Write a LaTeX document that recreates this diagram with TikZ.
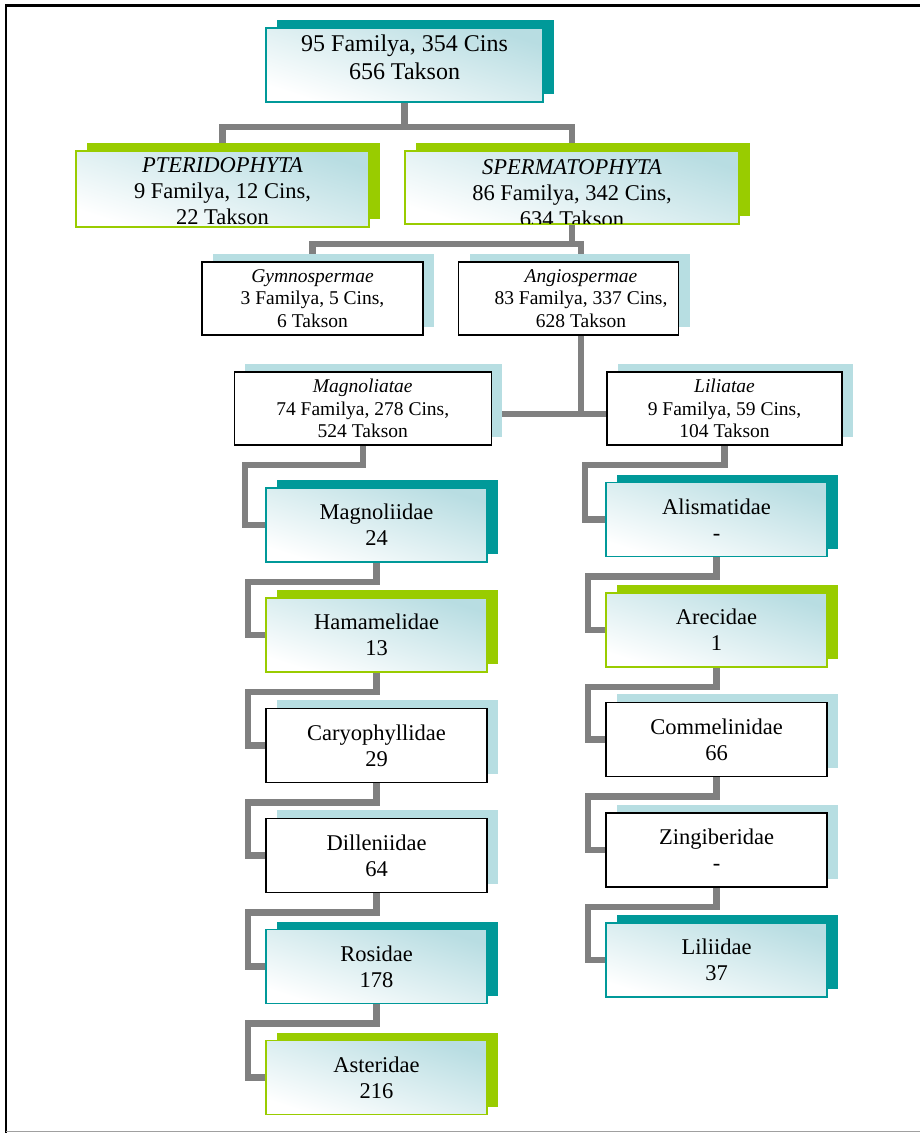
\documentclass[tikz,border=0pt]{standalone}
\usepackage{fontspec}
\setmainfont{Liberation Serif}
\usetikzlibrary{backgrounds,shadows,calc}
\definecolor{tealc}{RGB}{0,153,153}
\definecolor{greenc}{RGB}{153,204,0}
\definecolor{gradblue}{RGB}{184,221,226}
\definecolor{shadeblue}{RGB}{183,222,226}
\definecolor{conngray}{RGB}{128,128,128}
\definecolor{framegray}{RGB}{160,160,160}
\begin{document}
\begin{tikzpicture}[x=1pt,y=-1pt,
  base/.style={rectangle, inner sep=0pt, outer sep=0pt, align=center, line width=1.5pt, font=\fontsize{22.5}{26}\selectfont},
  txt/.style={inner sep=0pt, outer sep=0pt, align=center, font=\fontsize{22.5}{26}\selectfont},
  gradfill/.style={top color=gradblue, bottom color=white, middle color=gradblue!50!white, shading angle=-18},
  tealbox/.style={base, draw=tealc, gradfill, general shadow={fill=tealc, shadow xshift=10.5pt, shadow yshift=8pt}},
  greenbox/.style={base, draw=greenc, gradfill, general shadow={fill=greenc, shadow xshift=10.5pt, shadow yshift=8pt}},
  plainbox/.style={base, draw=black, fill=white, general shadow={fill=shadeblue, shadow xshift=11pt, shadow yshift=8.5pt}},
  smalltxt/.style={font=\fontsize{19.5}{22.5}\selectfont},
  sub/.style={minimum width=221pt, minimum height=74pt},
  conn/.style={draw=conngray, line width=6.5pt},
]
\useasboundingbox (0,0) rectangle (920,1133);

% level 0
\node[tealbox, minimum width=277pt, minimum height=74pt] (top) at (404.5,65) {};
\node[txt, font=\fontsize{24}{27.5}\selectfont] (toptext) at (404.5,57.5) {95 Familya, 354 Cins\\656 Takson};

% level 1
\node[greenbox, minimum width=293pt, minimum height=76pt] (pter) at (222.5,189) {};
\node[txt] (ptertext) at (222.5,191.5) {\textit{PTERIDOPHYTA}\\9 Familya, 12 Cins,\\22 Takson};
\node[greenbox, minimum width=334pt, minimum height=73pt] (sperm) at (572,187.5) {};
\begin{scope}
  \clip ($(sperm.south west)+(0.75,-0.75)$) rectangle ($(sperm.north east)+(-0.75,0.75)$);
  \node[txt] (spermtext) at (572,193) {\textit{SPERMATOPHYTA}\\86 Familya, 342 Cins,\\634 Takson};
\end{scope}

% level 2
\node[plainbox, smalltxt, minimum width=221pt, minimum height=73pt] (gymno) at (312.5,298.5) {\textit{Gymnospermae}\\3 Familya, 5 Cins,\\6 Takson};
\node[plainbox, minimum width=220pt, minimum height=73pt] (angio) at (568.5,298.5) {};
\node[txt, smalltxt] (angiotext) at (581,298.5) {\textit{Angiospermae}\\83 Familya, 337 Cins,\\628 Takson};

% level 3
\node[plainbox, smalltxt, minimum width=257pt, minimum height=73pt] (magnoliatae) at (362.75,408.5) {\textit{Magnoliatae}\\74 Familya, 278 Cins,\\524 Takson};
\node[plainbox, smalltxt, minimum width=235pt, minimum height=73pt] (liliatae) at (724.5,408.5) {\textit{Liliatae}\\9 Familya, 59 Cins,\\104 Takson};

% left column
\node[tealbox, sub] (magnoliidae) at (376.5,525) {Magnoliidae\\24};
\node[greenbox, sub] (hamamelidae) at (376.5,635) {Hamamelidae\\13};
\node[plainbox, sub] (caryophyllidae) at (376.5,745.5) {Caryophyllidae\\29};
\node[plainbox, sub] (dilleniidae) at (376.5,855.5) {Dilleniidae\\64};
\node[tealbox, sub] (rosidae) at (376.5,966.5) {Rosidae\\178};
\node[greenbox, sub] (asteridae) at (376.5,1077.5) {Asteridae\\216};

% right column
\node[tealbox, sub] (alismatidae) at (716.5,519.5) {Alismatidae\\-};
\node[greenbox, sub] (arecidae) at (716.5,630) {Arecidae\\1};
\node[plainbox, sub] (commelinidae) at (716.5,739.5) {Commelinidae\\66};
\node[plainbox, sub] (zingiberidae) at (716.5,850) {Zingiberidae\\-};
\node[tealbox, sub] (liliidae) at (716.5,960) {Liliidae\\37};

% connectors
\begin{scope}[on background layer]
  \draw[conn] (top.south) -- ++(0,25) -| (pter.north);
  \draw[conn] (top.south) -- ++(0,25) -| (sperm.north);
  \draw[conn] (sperm.south) -- ++(0,20) -| (gymno.north);
  \draw[conn] (sperm.south) -- ++(0,20) -| (angiotext |- angio.north);
  \draw[conn] (angiotext |- angio.south) -- ++(0,79) coordinate (bus);
  \draw[conn] (magnoliatae.east |- bus) -- (liliatae.west |- bus);
  \draw[conn] (magnoliatae.south) -- ++(0,20) -| ($(magnoliidae.west)+(-21,0)$) -- (magnoliidae.west);
  \draw[conn] (liliatae.south) -- ++(0,20) -| ($(alismatidae.west)+(-21,0)$) -- (alismatidae.west);
  \foreach \a/\b in {magnoliidae/hamamelidae, hamamelidae/caryophyllidae, caryophyllidae/dilleniidae, dilleniidae/rosidae, rosidae/asteridae, alismatidae/arecidae, arecidae/commelinidae, commelinidae/zingiberidae, zingiberidae/liliidae}
    \draw[conn] (\a.south) -- ++(0,20) -| ($(\b.west)+(-18,0)$) -- (\b.west);
\end{scope}

% page frame
\draw[black, line width=2.3pt] (920,5.5) -- (6.2,5.5) -- (6.2,1133);
\draw[framegray, line width=1.3pt] (6.2,1131.8) -- (920,1131.8);
\end{tikzpicture}
\end{document}
